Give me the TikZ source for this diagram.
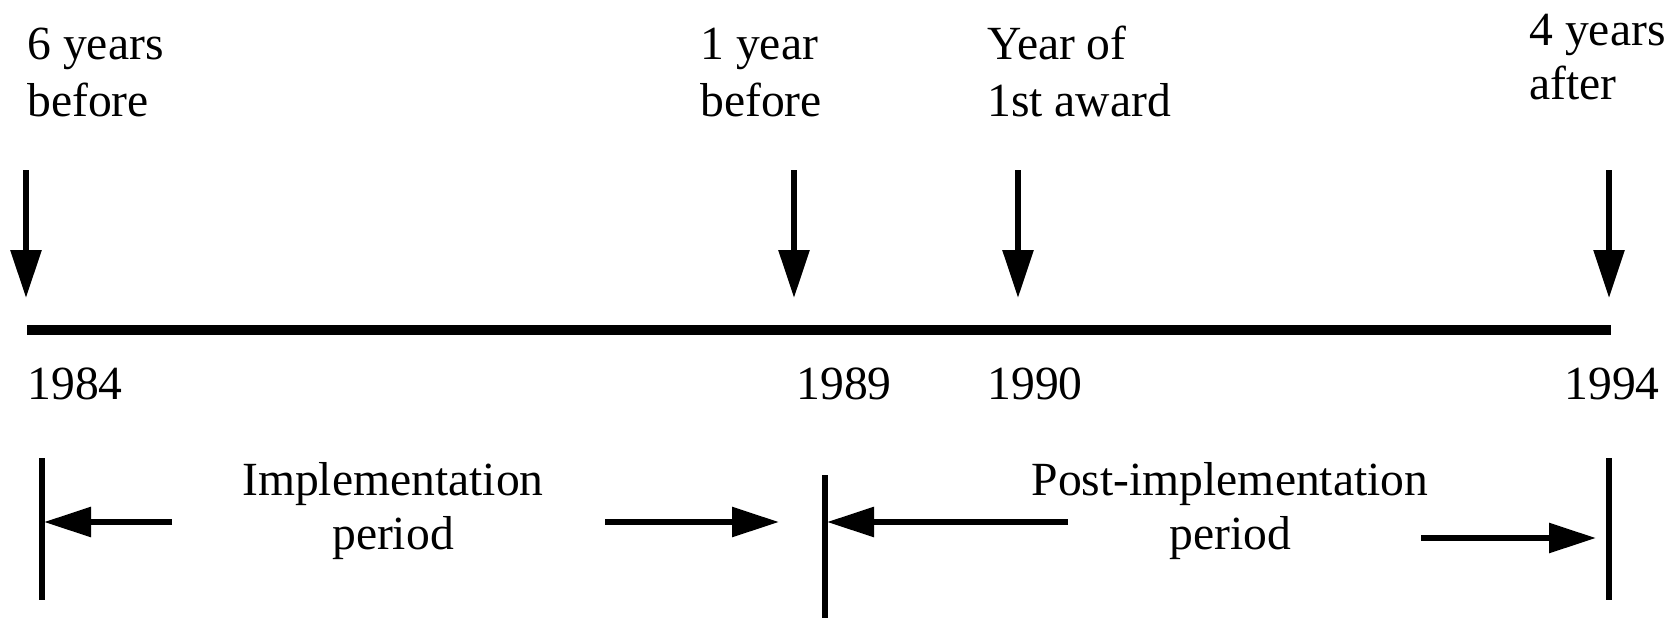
\documentclass[tikz,border=0pt]{standalone}
\usepackage{fontspec}
\setmainfont{Liberation Serif}
\usetikzlibrary{arrows.meta}
\begin{document}
\begin{tikzpicture}[x=0.5pt,y=-0.5pt,
  lbl/.style={inner sep=0pt, font=\fontsize{23.8}{28}\selectfont},
  downarr/.style={line width=2.9pt,-{Triangle[length=24pt,width=15pt]}},
  sidearr/.style={line width=2.9pt,-{Triangle[length=23.5pt,width=14.5pt]}},
  tickline/.style={line width=2.9pt},
  axisline/.style={line width=5pt}]
\useasboundingbox (0,0) rectangle (1680,618);

% top labels
\node[lbl,anchor=base west] (l1a) at (27,59) {6 years};
\node[lbl,anchor=base west] (l1b) at (27,116) {before};
\node[lbl,anchor=base west] (l2a) at (700,59) {1 year};
\node[lbl,anchor=base west] (l2b) at (700,116) {before};
\node[lbl,anchor=base west] (l3a) at (987,59) {Year of};
\node[lbl,anchor=base west] (l3b) at (987,116) {1st award};
\node[lbl,anchor=base west] (l4a) at (1529,45) {4 years};
\node[lbl,anchor=base west] (l4b) at (1529,99) {after};

% down arrows
\coordinate (d1s) at (26,170);   \coordinate (d1e) at (26,298);
\coordinate (d2s) at (794,170);  \coordinate (d2e) at (794,298);
\coordinate (d3s) at (1018,170); \coordinate (d3e) at (1018,298);
\coordinate (d4s) at (1609,170); \coordinate (d4e) at (1609,298);
\draw[downarr] (d1s) -- (d1e);
\draw[downarr] (d2s) -- (d2e);
\draw[downarr] (d3s) -- (d3e);
\draw[downarr] (d4s) -- (d4e);

% axis
\coordinate (axl) at (27,330); \coordinate (axr) at (1611,330);
\draw[axisline] (axl) -- (axr);

% years
\node[lbl,anchor=base west] (y1) at (27,399) {1984};
\node[lbl,anchor=base west] (y2) at (796,399) {1989};
\node[lbl,anchor=base west] (y3) at (987,399) {1990};
\node[lbl,anchor=base west] (y4) at (1564,399) {1994};

% period bars
\coordinate (t1a) at (42,458);   \coordinate (t1b) at (42,600);
\coordinate (t2a) at (825,475);  \coordinate (t2b) at (825,618);
\coordinate (t3a) at (1609,458); \coordinate (t3b) at (1609,600);
\draw[tickline] (t1a) -- (t1b);
\draw[tickline] (t2a) -- (t2b);
\draw[tickline] (t3a) -- (t3b);

% period labels
\node[lbl,anchor=base] (p1a) at (393,495) {Implementation};
\node[lbl,anchor=base] (p1b) at (393,549) {period};
\node[lbl,anchor=base] (p2a) at (1230,495) {Post-implementation};
\node[lbl,anchor=base] (p2b) at (1230,549) {period};

% period arrows
\coordinate (s1a) at (172,522);  \coordinate (s1b) at (44,522);
\coordinate (s2a) at (605,522);  \coordinate (s2b) at (779,522);
\coordinate (s3a) at (1068,522); \coordinate (s3b) at (827,522);
\coordinate (s4a) at (1421,538); \coordinate (s4b) at (1596,538);
\draw[sidearr] (s1a) -- (s1b);
\draw[sidearr] (s2a) -- (s2b);
\draw[sidearr] (s3a) -- (s3b);
\draw[sidearr] (s4a) -- (s4b);
\end{tikzpicture}
\end{document}
